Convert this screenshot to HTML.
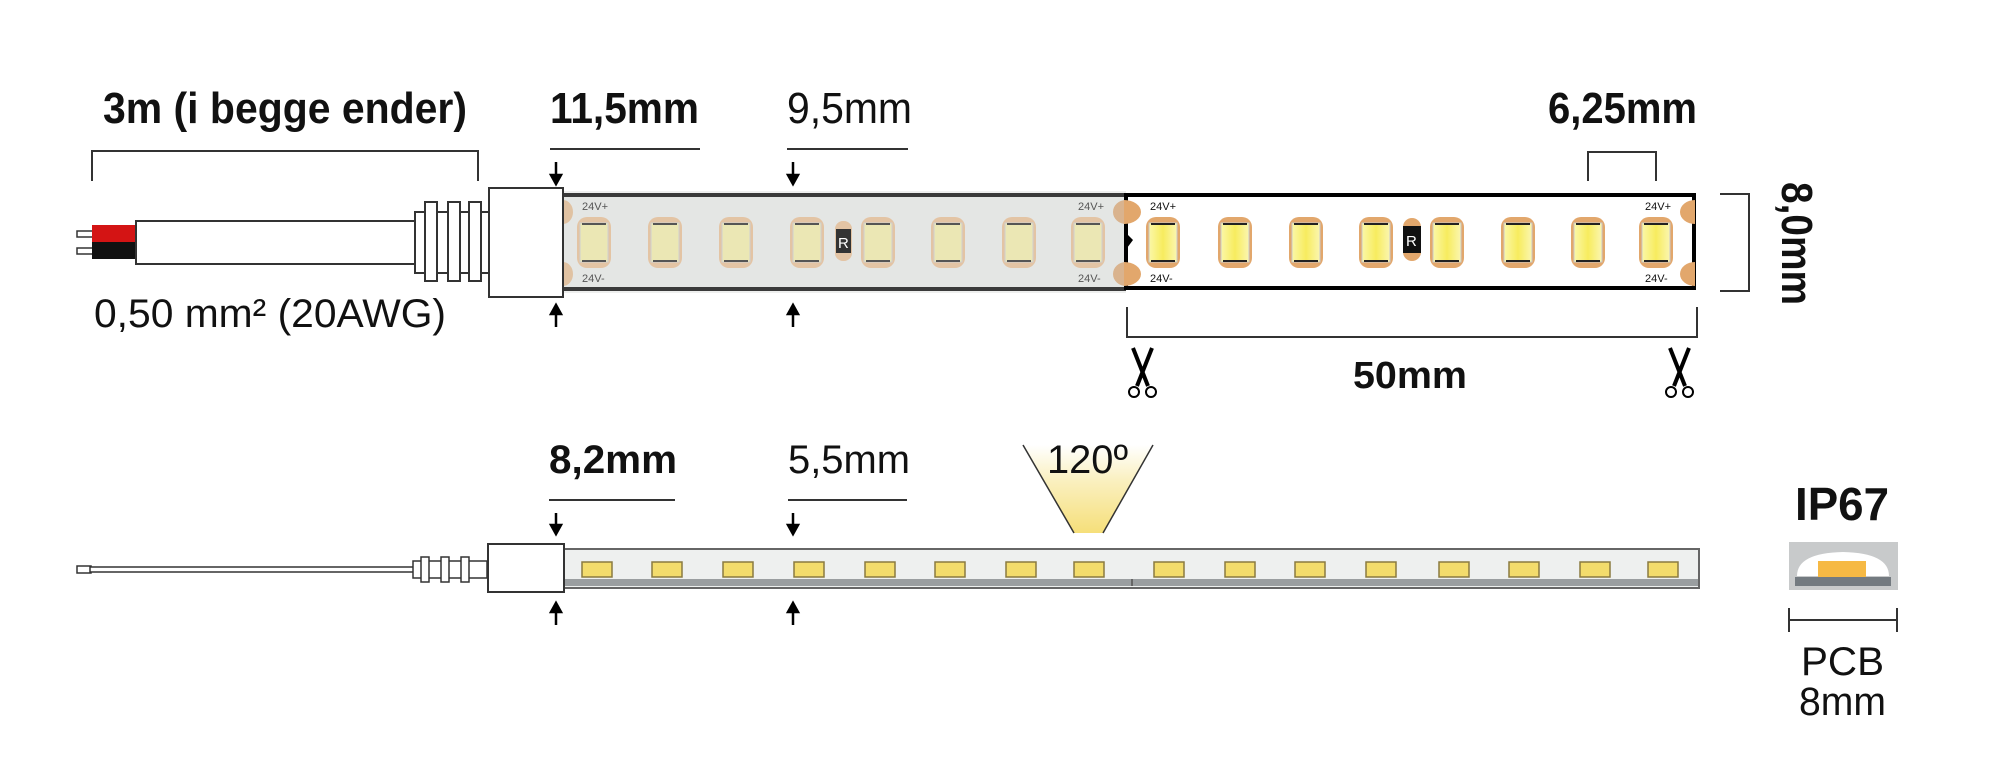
<!DOCTYPE html>
<html><head><meta charset="utf-8"><style>
html,body{margin:0;padding:0;background:#fff;}
svg{display:block;}
text{font-family:"Liberation Sans Narrow","Liberation Sans",sans-serif;fill:#111;}
.b{font-weight:bold;}
</style></head><body>
<svg width="2000" height="772" viewBox="0 0 2000 772" xmlns="http://www.w3.org/2000/svg">
<defs>
<linearGradient id="cone" x1="0" y1="1" x2="0" y2="0">
<stop offset="0" stop-color="#f6df7a"/><stop offset="0.6" stop-color="#faf0c0"/><stop offset="1" stop-color="#ffffff"/>
</linearGradient>
<linearGradient id="ledY" x1="0" y1="0" x2="1" y2="0">
<stop offset="0" stop-color="#fbf7a8"/><stop offset="0.5" stop-color="#f7ec5e"/><stop offset="1" stop-color="#fbf6b0"/>
</linearGradient>
<g id="led2">
<rect x="-17" y="217" width="34" height="51" rx="10" fill="#e2a76c"/>
<rect x="-14" y="223" width="28" height="39" fill="url(#ledY)" stroke="#c9c9c9" stroke-width="1"/>
<line x1="-12" y1="224" x2="12" y2="224" stroke="#222" stroke-width="2"/>
<line x1="-12" y1="261" x2="12" y2="261" stroke="#222" stroke-width="2"/>
</g>
<g id="led1">
<rect x="-17" y="217" width="34" height="51" rx="10" fill="#e3c4a4"/>
<rect x="-14" y="223" width="28" height="39" fill="#ebe7b4" stroke="#cfcfcf" stroke-width="1"/>
<line x1="-12" y1="224" x2="12" y2="224" stroke="#555" stroke-width="2"/>
<line x1="-12" y1="261" x2="12" y2="261" stroke="#555" stroke-width="2"/>
</g>
<g id="sledA">
<rect x="-15" y="562" width="30" height="15" fill="#f3dc6c" stroke="#8a7a40" stroke-width="1.5"/>
</g>
<g id="sc">
<line x1="1133" y1="348" x2="1148" y2="386" stroke="#000" stroke-width="4"/>
<line x1="1152" y1="348" x2="1137" y2="386" stroke="#000" stroke-width="4"/>
<circle cx="1134" cy="392" r="5" fill="none" stroke="#000" stroke-width="2"/>
<circle cx="1151" cy="392" r="5" fill="none" stroke="#000" stroke-width="2"/>
</g>
</defs>

<!-- Top labels -->
<text class="b" x="103" y="123" font-size="44" textLength="364" lengthAdjust="spacingAndGlyphs">3m (i begge ender)</text>
<text class="b" x="550" y="123" font-size="44" textLength="149" lengthAdjust="spacingAndGlyphs">11,5mm</text>
<text x="787" y="123" font-size="44" textLength="125" lengthAdjust="spacingAndGlyphs">9,5mm</text>
<text class="b" x="1548" y="123" font-size="44" textLength="149" lengthAdjust="spacingAndGlyphs">6,25mm</text>
<line x1="550" y1="149" x2="700" y2="149" stroke="#333" stroke-width="2"/>
<line x1="787" y1="149" x2="908" y2="149" stroke="#333" stroke-width="2"/>

<!-- bracket 3m -->
<polyline points="92,181 92,151 478,151 478,181" fill="none" stroke="#333" stroke-width="2"/>
<!-- bracket 6,25 -->
<polyline points="1588,181 1588,152 1656,152 1656,181" fill="none" stroke="#333" stroke-width="2"/>

<!-- cable -->
<rect x="77" y="231" width="16" height="6" fill="#fff" stroke="#333" stroke-width="1.5"/>
<rect x="77" y="248" width="16" height="6" fill="#fff" stroke="#333" stroke-width="1.5"/>
<rect x="92" y="225" width="45" height="17" fill="#d41414"/>
<rect x="92" y="242" width="45" height="17" fill="#111"/>
<rect x="136" y="221" width="279" height="43" fill="#fff" stroke="#333" stroke-width="2"/>
<rect x="415" y="212" width="74" height="61" fill="#fff" stroke="#333" stroke-width="2"/>
<rect x="425" y="202" width="12" height="79" fill="#fff" stroke="#333" stroke-width="2"/>
<rect x="448" y="202" width="12" height="79" fill="#fff" stroke="#333" stroke-width="2"/>
<rect x="469" y="202" width="12" height="79" fill="#fff" stroke="#333" stroke-width="2"/>

<!-- strip 1 (silicone) -->
<rect x="563" y="191" width="563" height="102" fill="#eeefee"/>
<rect x="563" y="194" width="563" height="95" fill="#e4e6e4"/>
<rect x="563" y="193" width="563" height="4" fill="#3a3a3a"/>
<rect x="563" y="287" width="563" height="4" fill="#3a3a3a"/>
<path d="M563,200 a10,12 0 0 1 0,24 z" fill="#e0c2a2"/>
<path d="M563,262 a10,12 0 0 1 0,24 z" fill="#e0c2a2"/>
<path d="M1126,200 a13,12 0 0 0 0,24 z" fill="#d9b38e"/>
<path d="M1126,262 a13,12 0 0 0 0,24 z" fill="#d9b38e"/>
<text x="582" y="210" font-size="11" fill="#555" style="fill:#555">24V+</text>
<text x="582" y="282" font-size="11" style="fill:#555">24V-</text>
<text x="1078" y="210" font-size="11" style="fill:#555">24V+</text>
<text x="1078" y="282" font-size="11" style="fill:#555">24V-</text>
<use href="#led1" x="594"/><use href="#led1" x="665"/><use href="#led1" x="736"/><use href="#led1" x="807"/>
<use href="#led1" x="878"/><use href="#led1" x="948"/><use href="#led1" x="1019"/><use href="#led1" x="1088"/>
<rect x="835" y="221" width="17" height="40" rx="8" fill="#e3c4a4"/>
<rect x="836" y="229" width="15" height="24" fill="#333"/>
<text x="838" y="248" font-size="15" style="fill:#fff">R</text>

<!-- connector box top -->
<rect x="489" y="188" width="74" height="109" fill="#fff" stroke="#333" stroke-width="2"/>

<!-- strip 2 (bare) -->
<rect x="1126" y="195" width="568" height="93" fill="#fff" stroke="#000" stroke-width="4"/>
<path d="M1124,200 a17,12 0 0 1 0,24 z" fill="#e2a76c"/>
<path d="M1124,262 a17,12 0 0 1 0,24 z" fill="#e2a76c"/>
<path d="M1695,200 a15,12 0 0 0 0,24 z" fill="#e2a76c"/>
<path d="M1695,262 a15,12 0 0 0 0,24 z" fill="#e2a76c"/>
<path d="M1127,234 l6,6 -6,8 z" fill="#000"/>
<text x="1150" y="210" font-size="11">24V+</text>
<text x="1150" y="282" font-size="11">24V-</text>
<text x="1645" y="210" font-size="11">24V+</text>
<text x="1645" y="282" font-size="11">24V-</text>
<use href="#led2" x="1163"/><use href="#led2" x="1235"/><use href="#led2" x="1306"/><use href="#led2" x="1376"/>
<use href="#led2" x="1447"/><use href="#led2" x="1518"/><use href="#led2" x="1588"/><use href="#led2" x="1656"/>
<rect x="1403" y="218" width="18" height="43" rx="9" fill="#e2a76c"/>
<rect x="1403" y="226" width="18" height="27" fill="#111"/>
<text x="1406" y="246" font-size="15" style="fill:#fff">R</text>

<!-- arrows top -->
<g stroke="#000" stroke-width="2.5" fill="#000">
<line x1="556" y1="162" x2="556" y2="176"/><path d="M551,175 L561,175 L556,184 z"/>
<line x1="556" y1="313" x2="556" y2="327"/><path d="M551,314 L561,314 L556,305 z"/>
<line x1="793" y1="162" x2="793" y2="176"/><path d="M788,175 L798,175 L793,184 z"/>
<line x1="793" y1="313" x2="793" y2="327"/><path d="M788,314 L798,314 L793,305 z"/>
</g>

<text x="94" y="327" font-size="40" textLength="352" lengthAdjust="spacingAndGlyphs">0,50 mm² (20AWG)</text>

<!-- 8,0mm -->
<polyline points="1720,194 1749,194 1749,291 1720,291" fill="none" stroke="#333" stroke-width="2"/>
<text class="b" transform="translate(1782,182) rotate(90)" x="0" y="0" font-size="44" textLength="123" lengthAdjust="spacingAndGlyphs">8,0mm</text>

<!-- 50mm -->
<polyline points="1127,307 1127,337 1697,337 1697,307" fill="none" stroke="#333" stroke-width="2"/>
<use href="#sc"/>
<use href="#sc" x="537"/>
<text class="b" x="1353" y="388" font-size="38" textLength="114" lengthAdjust="spacingAndGlyphs">50mm</text>

<!-- bottom section -->
<text class="b" x="549" y="473" font-size="40" textLength="128" lengthAdjust="spacingAndGlyphs">8,2mm</text>
<text x="788" y="473" font-size="40" textLength="122" lengthAdjust="spacingAndGlyphs">5,5mm</text>
<line x1="549" y1="500" x2="675" y2="500" stroke="#333" stroke-width="2"/>
<line x1="788" y1="500" x2="907" y2="500" stroke="#333" stroke-width="2"/>

<polygon points="1023,445 1153,445 1103,533 1074,533" fill="url(#cone)"/>
<line x1="1023" y1="445" x2="1074" y2="533" stroke="#333" stroke-width="1.5"/>
<line x1="1153" y1="445" x2="1103" y2="533" stroke="#333" stroke-width="1.5"/>
<text x="1047" y="473" font-size="40" textLength="81" lengthAdjust="spacingAndGlyphs">120º</text>

<rect x="77" y="566" width="14" height="7" fill="#fff" stroke="#333" stroke-width="1.5"/>
<rect x="90" y="567" width="324" height="5" fill="#fff" stroke="#333" stroke-width="1.5"/>
<rect x="413" y="561" width="74" height="17" fill="#fff" stroke="#333" stroke-width="1.5"/>
<rect x="421" y="557" width="8" height="25" fill="#fff" stroke="#333" stroke-width="1.5"/>
<rect x="441" y="557" width="8" height="25" fill="#fff" stroke="#333" stroke-width="1.5"/>
<rect x="461" y="557" width="8" height="25" fill="#fff" stroke="#333" stroke-width="1.5"/>
<rect x="564" y="549" width="1135" height="39" fill="#eef0ef" stroke="#666" stroke-width="2"/>
<rect x="565" y="579" width="1133" height="7" fill="#9a9ea0"/>
<line x1="1132" y1="579" x2="1132" y2="586" stroke="#666" stroke-width="2"/>
<use href="#sledA" x="597"/><use href="#sledA" x="667"/><use href="#sledA" x="738"/><use href="#sledA" x="809"/>
<use href="#sledA" x="880"/><use href="#sledA" x="950"/><use href="#sledA" x="1021"/><use href="#sledA" x="1089"/>
<use href="#sledA" x="1169"/><use href="#sledA" x="1240"/><use href="#sledA" x="1310"/><use href="#sledA" x="1381"/>
<use href="#sledA" x="1454"/><use href="#sledA" x="1524"/><use href="#sledA" x="1595"/><use href="#sledA" x="1663"/>
<rect x="488" y="544" width="76" height="48" fill="#fff" stroke="#333" stroke-width="2"/>

<g stroke="#000" stroke-width="2.5" fill="#000">
<line x1="556" y1="513" x2="556" y2="526"/><path d="M551,525 L561,525 L556,534 z"/>
<line x1="556" y1="611" x2="556" y2="625"/><path d="M551,612 L561,612 L556,603 z"/>
<line x1="793" y1="513" x2="793" y2="526"/><path d="M788,525 L798,525 L793,534 z"/>
<line x1="793" y1="611" x2="793" y2="625"/><path d="M788,612 L798,612 L793,603 z"/>
</g>

<!-- IP67 -->
<text class="b" x="1795" y="520" font-size="46" textLength="94" lengthAdjust="spacingAndGlyphs">IP67</text>
<rect x="1789" y="542" width="109" height="48" fill="#c8cacb"/>
<path d="M1797,576 Q1797,553 1843,552 Q1889,553 1889,576 z" fill="#fff"/>
<rect x="1818" y="561" width="48" height="16" fill="#f6b944"/>
<rect x="1795" y="577" width="96" height="9" fill="#737a80"/>
<line x1="1789" y1="620" x2="1897" y2="620" stroke="#333" stroke-width="2"/>
<line x1="1789" y1="608" x2="1789" y2="632" stroke="#333" stroke-width="2"/>
<line x1="1897" y1="608" x2="1897" y2="632" stroke="#333" stroke-width="2"/>
<text x="1801" y="675" font-size="40" textLength="83" lengthAdjust="spacingAndGlyphs">PCB</text>
<text x="1799" y="715" font-size="40" textLength="87" lengthAdjust="spacingAndGlyphs">8mm</text>
</svg>
</body></html>
